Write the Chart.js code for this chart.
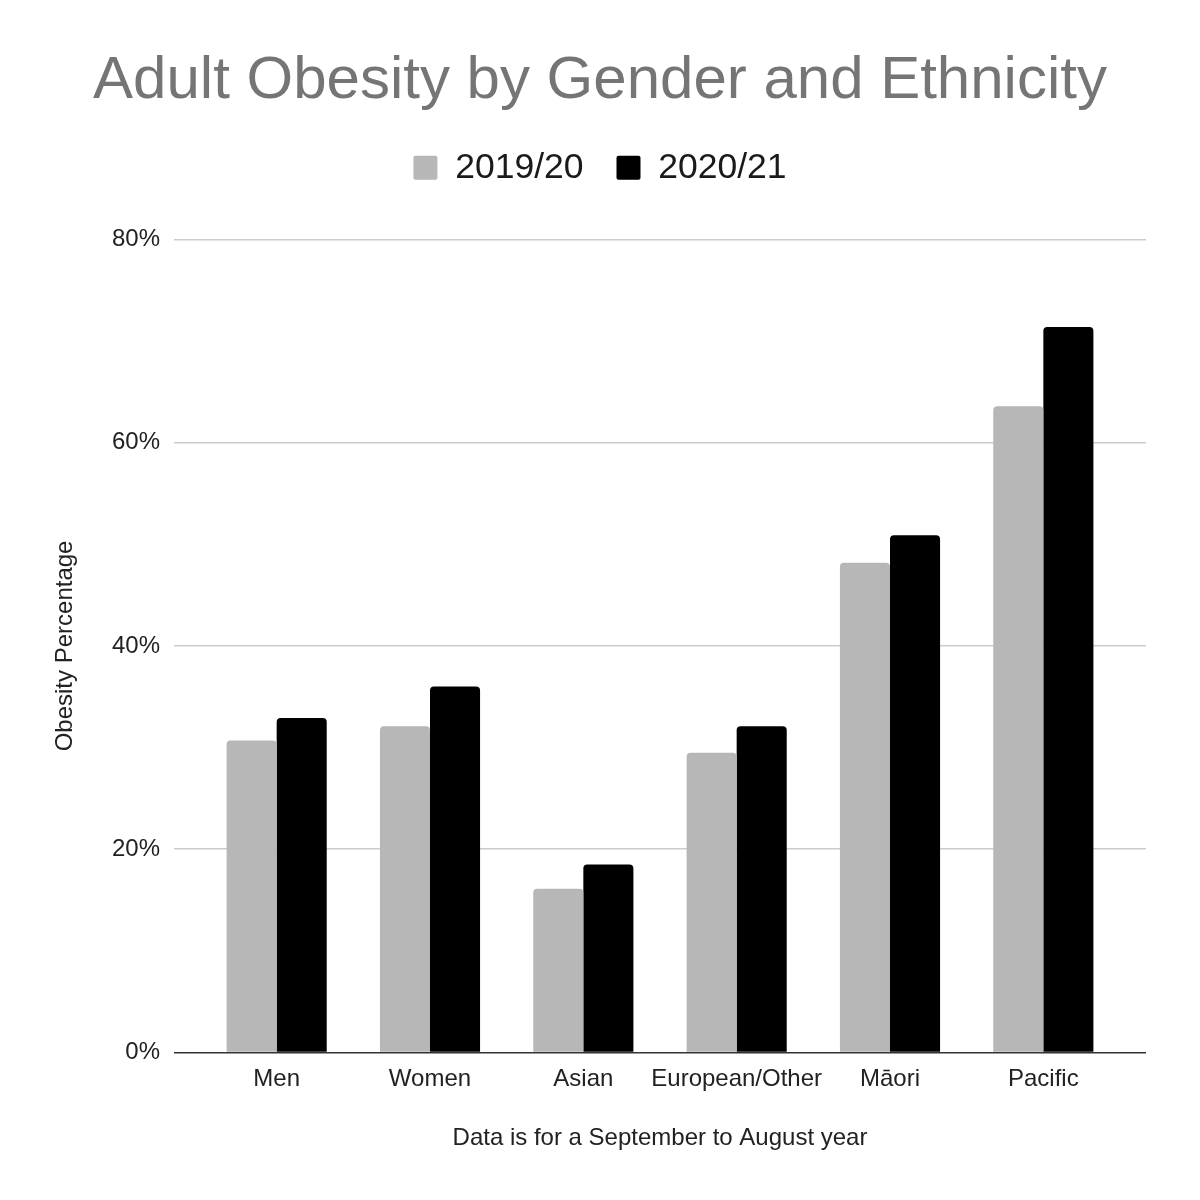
<!DOCTYPE html>
<html>
<head>
<meta charset="utf-8">
<script src="https://cdn.jsdelivr.net/npm/chart.js@4.4.0/dist/chart.umd.min.js"></script>
<style>
  body { margin: 0; background: #fff; }
  #wrap { width: 1200px; height: 1200px; }
</style>
</head>
<body>
<div id="wrap"><canvas id="myChart" width="1200" height="1200"></canvas></div>
<script>
const categories = ['Men', 'Women', 'Asian', 'European/Other', 'Māori', 'Pacific'];
const seriesNames = ['2019/20', '2020/21'];
const values2019 = [30.7, 32.1, 16.1, 29.5, 48.2, 63.6];
const values2020 = [32.9, 36.0, 18.5, 32.1, 50.9, 71.4];
const yTicks = [0, 20, 40, 60, 80];

const font = '"Liberation Sans", Arial, sans-serif';
const gridColor = c => (c.tick && c.tick.value === 0) ? '#333333' : '#cccccc';

// extra room under the legend
const legendGap = {
  id: 'legendGap',
  beforeUpdate(chart){
    if(chart.legend && !chart.legend._gapDone){
      const fit = chart.legend.fit;
      chart.legend.fit = function(){
        fit.call(this);
        this.height += 44;
      };
      chart.legend._gapDone = true;
    }
  }
};

function chartBar(){
  const ctx = document.getElementById('myChart');
  new Chart(ctx, {
    type: 'bar',
    data: {
      labels: categories,
      datasets: [{
        label: seriesNames[0],
        data: values2019,
        yAxisID: 'y',
        backgroundColor: '#b7b7b7',
        borderRadius: {topLeft: 4, topRight: 4},
        borderSkipped: 'bottom'
      }, {
        label: seriesNames[1],
        data: values2020,
        yAxisID: 'y',
        backgroundColor: '#000000',
        borderRadius: {topLeft: 4, topRight: 4},
        borderSkipped: 'bottom'
      }]
    },
    plugins: [legendGap],
    options: {
      responsive: false,
      animation: false,
      categoryPercentage: 0.653,
      barPercentage: 1,
      layout: { padding: { top: 45, left: 27, right: 27, bottom: 47 } },
      plugins: {
        title: {
          display: true,
          text: 'Adult Obesity by Gender and Ethnicity',
          color: '#757575',
          font: { family: font, size: 60, weight: 'normal' },
          padding: { top: 0, bottom: 0 }
        },
        legend: {
          labels: {
            color: '#1a1a1a',
            font: { family: font, size: 35.5 },
            boxWidth: 24,
            boxHeight: 24,
            useBorderRadius: true,
            borderRadius: 2,
            padding: 33
          }
        },
        tooltip: { enabled: false }
      },
      scales: {
        x: {
          grid: { display: false, drawTicks: false },
          border: { display: false },
          ticks: {
            color: '#222',
            font: { family: font, size: 24 },
            padding: 13,
            autoSkip: false,
            maxRotation: 0,
            minRotation: 0
          },
          title: {
            display: true,
            text: 'Data is for a September to August year',
            color: '#222',
            font: { family: font, size: 24 },
            padding: { top: 17, bottom: 0 }
          }
        },
        y: {
          position: 'left',
          min: 0,
          max: 80,
          afterBuildTicks: axis => { axis.ticks = yTicks.map(v => ({value: v})); },
          afterFit: axis => { axis.width = 173; },
          grid: { color: gridColor, lineWidth: 1.5, drawTicks: true, tickLength: 26 },
          border: { display: false },
          ticks: {
            color: '#222',
            font: { family: font, size: 24 },
            padding: 14,
            callback: v => v + '%'
          },
          title: {
            display: true,
            text: 'Obesity Percentage',
            color: '#222',
            font: { family: font, size: 24 },
            padding: { top: 24, bottom: 4 }
          }
        },
        yRight: {
          position: 'right',
          min: 0,
          max: 80,
          afterBuildTicks: axis => { axis.ticks = yTicks.map(v => ({value: v})); },
          afterFit: axis => { axis.width = 53; },
          grid: { color: gridColor, lineWidth: 1.5, drawOnChartArea: false, drawTicks: true, tickLength: 26 },
          border: { display: false },
          ticks: { display: false }
        }
      }
    }
  });
}

chartBar();
</script>
</body>
</html>
